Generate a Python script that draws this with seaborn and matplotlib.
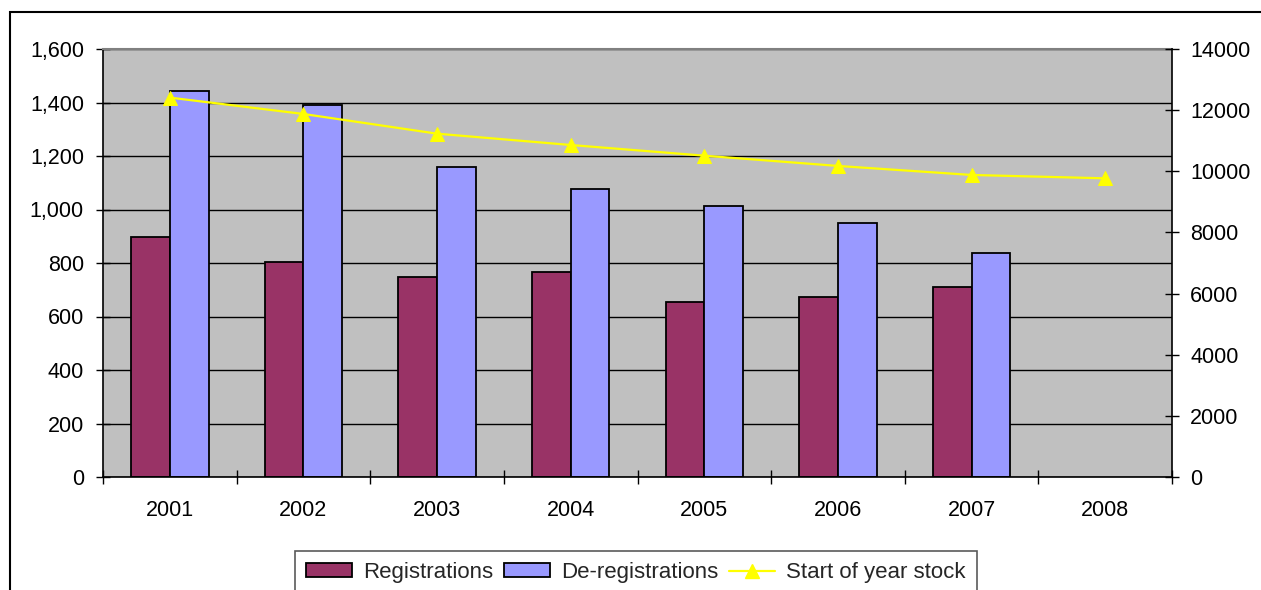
import numpy as np
import pandas as pd
import matplotlib
matplotlib.use("Agg")
import matplotlib.pyplot as plt
from matplotlib.patches import Rectangle, Patch
from matplotlib.lines import Line2D
from matplotlib.ticker import FuncFormatter, FixedLocator
import seaborn as sns

# Annual figures
years = ["2001", "2002", "2003", "2004", "2005", "2006", "2007", "2008"]
registrations = [897, 805, 747, 768, 653, 672, 710, np.nan]
deregistrations = [1443, 1392, 1158, 1078, 1014, 950, 838, np.nan]
start_stock = [12410, 11875, 11230, 10860, 10510, 10175, 9880, 9770]

series_names = ["Registrations", "De-registrations", "Start of year stock"]
bar_colors = ["#993366", "#9999FF"]
line_color = "#FFFF00"

sns.set_theme(style="white")
plt.rcParams["font.family"] = ["Liberation Sans", "DejaVu Sans"]

df = pd.DataFrame({
    "year": years * 2,
    "value": list(registrations) + list(deregistrations),
    "series": [series_names[0]] * len(years) + [series_names[1]] * len(years),
})

W, H = 1261, 590
fig = plt.figure(figsize=(W / 100, H / 100), dpi=100)
fig.patch.set_facecolor("white")

# outer chart frame
fig.patches.append(Rectangle((10 / W, -0.2), 1.2, 1.2 - 12 / H,
                             transform=fig.transFigure, fill=False,
                             edgecolor="black", linewidth=1.5, zorder=0))

ax = fig.add_axes([103 / W, 1 - 477 / H, (1172 - 103) / W, (477 - 49) / H])
ax.set_facecolor("#C0C0C0")

sns.barplot(data=df, x="year", y="value", hue="series", order=years,
            hue_order=series_names[:2], palette=bar_colors, width=0.58,
            gap=0, edgecolor="black", linewidth=1.3, saturation=1,
            legend=False, ax=ax, zorder=2)

ax.set_ylim(0, 1600)
ax.set_xlim(-0.5, len(years) - 0.5)
ax.set_yticks(np.arange(0, 1601, 200))
ax.yaxis.set_major_formatter(FuncFormatter(lambda v, p: f"{int(v):,}"))
ax.grid(axis="y", color="black", linewidth=1.0, zorder=0)
ax.set_axisbelow(True)
ax.set_xlabel("")
ax.set_ylabel("")

# category boundaries as major ticks, labels on minor ticks at centres
ax.xaxis.set_major_locator(FixedLocator(np.arange(-0.5, len(years), 1.0)))
ax.xaxis.set_major_formatter(FuncFormatter(lambda v, p: ""))
ax.xaxis.set_minor_locator(FixedLocator(np.arange(len(years))))
ax.set_xticklabels(years, minor=True)
ax.tick_params(axis="x", which="major", direction="inout", length=10,
               width=1, color="black", bottom=True)
ax.tick_params(axis="x", which="minor", length=0, pad=16.5, labelsize=15.5,
               labelcolor="black", bottom=True)
ax.tick_params(axis="y", which="major", direction="inout", length=10,
               width=1, color="black", left=True, pad=8.7, labelsize=15.5,
               labelcolor="black")

for side in ["left", "bottom"]:
    ax.spines[side].set_color("black")
    ax.spines[side].set_linewidth(1.2)
ax.spines["right"].set_visible(False)
ax.spines["top"].set_color("#808080")
ax.spines["top"].set_linewidth(1.5)

ax2 = ax.twinx()
sns.lineplot(x=np.arange(len(years)), y=start_stock, ax=ax2, color=line_color,
             marker="^", markersize=10, markeredgecolor=line_color,
             linewidth=1.6, legend=False)
ax2.set_ylim(0, 14000)
ax2.set_yticks(np.arange(0, 14001, 2000))
ax2.yaxis.set_major_formatter(FuncFormatter(lambda v, p: f"{int(v)}"))
ax2.set_xlim(-0.5, len(years) - 0.5)
ax2.set_ylabel("")
ax2.tick_params(axis="y", which="major", direction="inout", length=10,
                width=1, color="black", right=True, pad=8, labelsize=15.5,
                labelcolor="black")
ax2.grid(False)
for side in ["left", "bottom", "top"]:
    ax2.spines[side].set_visible(False)
ax2.spines["right"].set_color("black")
ax2.spines["right"].set_linewidth(1.2)

handles = [
    Patch(facecolor=bar_colors[0], edgecolor="black", linewidth=1.3),
    Patch(facecolor=bar_colors[1], edgecolor="black", linewidth=1.3),
    Line2D([], [], color=line_color, marker="^", markersize=10,
           markeredgecolor=line_color, linewidth=1.6),
]
leg = fig.legend(handles, series_names, loc="upper center",
                 bbox_to_anchor=(636 / W, 1 - 551 / H), ncol=3,
                 fontsize=16, frameon=True, fancybox=False, shadow=False,
                 edgecolor="#303030", handlelength=2.05, handleheight=0.6,
                 handletextpad=0.5, columnspacing=0.5, borderpad=0.5,
                 borderaxespad=0)
leg.get_frame().set_linewidth(1.2)

fig.savefig("out.png", dpi=100, facecolor="white")
